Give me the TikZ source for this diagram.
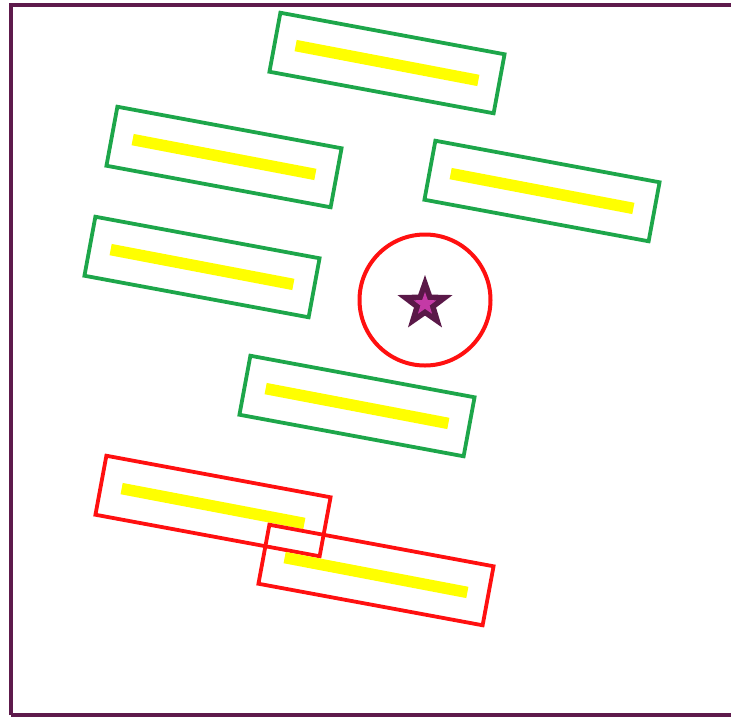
\documentclass[tikz,border=0pt]{standalone}
\usetikzlibrary{shapes.geometric}
\definecolor{framec}{HTML}{5E1A4C}
\definecolor{boxgreen}{HTML}{1DA64A}
\definecolor{boxred}{HTML}{FF1010}
\definecolor{baryel}{HTML}{FFFF00}
\definecolor{stardark}{HTML}{5A1848}
\definecolor{starmag}{HTML}{C43AA6}
\tikzset{
  frameline/.style={draw=framec, line width=3.2pt},
  card/.style={rectangle, draw, line width=3.8pt, minimum width=228pt, minimum height=60pt, inner sep=0pt, rotate=-10.5},
  gcard/.style={card, draw=boxgreen},
  rcard/.style={card, draw=boxred},
  bar/.style={rectangle, fill=baryel, minimum width=186pt, minimum height=11.5pt, inner sep=0pt, rotate=-10.8},
  ring/.style={circle, draw=boxred, line width=4pt, minimum size=131pt, inner sep=0pt},
  starout/.style={star, star points=5, star point ratio=2.5, fill=stardark, minimum size=58pt, inner sep=0pt},
  starin/.style={star, star points=5, star point ratio=2.5, fill=starmag, minimum size=24pt, inner sep=0pt}
}
\begin{document}
\begin{tikzpicture}[x=1pt,y=-1pt]
\useasboundingbox (0,0) rectangle (731,716);
\draw[frameline] (11,715) -- (11,5) -- (745,5);
\draw[frameline] (11,715) -- (745,715);
% green cards
\node[gcard] (g1) at (387,63) {};
\node[bar] (y1) at (g1.center) {};
\node[gcard] (g2) at (224,157) {};
\node[bar] (y2) at (g2.center) {};
\node[gcard] (g3) at (542,191) {};
\node[bar] (y3) at (g3.center) {};
\node[gcard] (g4) at (202,267) {};
\node[bar] (y4) at (g4.center) {};
\node[gcard] (g5) at (357,406) {};
\node[bar] (y5) at (g5.center) {};
% red cards
\node[rcard] (r1) at (213,506) {};
\node[bar] (y6) at (r1.center) {};
\node[rcard] (r2) at (376,575) {};
\node[bar] (y7) at (r2.center) {};
% circle and star
\node[ring] (c) at (425,300) {};
\node[starout] (s) at (425,304) {};
\node[starin] (si) at (s.center) {};
\end{tikzpicture}
\end{document}
